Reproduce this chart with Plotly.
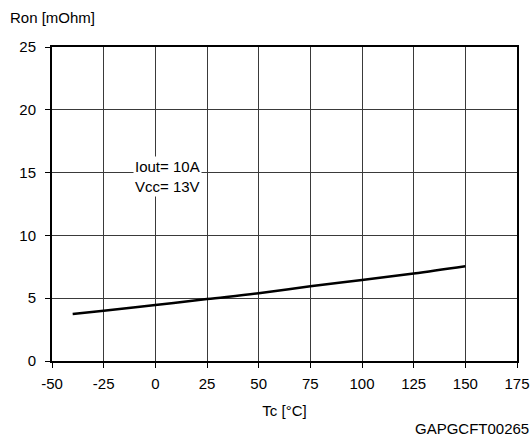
import plotly.graph_objects as go

tc = [-40, -25, 0, 25, 50, 75, 100, 125, 150]
ron = [3.75, 4.0, 4.45, 4.93, 5.4, 5.95, 6.45, 6.97, 7.55]
x_ticks = [-50, -25, 0, 25, 50, 75, 100, 125, 150, 175]
x_tick_labels = ["-50", "-25", "0", "25", "50", "75", "100", "125", "150", "175"]
y_ticks = [0, 5, 10, 15, 20, 25]
y_tick_labels = ["0", "5", "10", "15", "20", "25"]

font = dict(family="Liberation Sans, Arial, sans-serif", size=15, color="black")

fig = go.Figure()
fig.add_trace(go.Scatter(x=tc, y=ron, mode="lines",
                         line=dict(color="black", width=2.5, shape="spline"),
                         showlegend=False, hoverinfo="skip"))

W, H = 532, 439
L, R, T, B = 52, 15, 47, 78
pw, ph = W - L - R, H - T - B

fig.update_layout(
    width=W, height=H,
    margin=dict(l=L, r=R, t=T, b=B, autoexpand=False),
    paper_bgcolor="white", plot_bgcolor="white",
    font=font,
    xaxis=dict(range=[-50, 175], tickvals=x_ticks, ticktext=x_tick_labels, showgrid=True,
               gridcolor="#3a3a3a", gridwidth=1, zeroline=False, automargin=False,
               showline=True, linecolor="black", linewidth=2, mirror=True,
               ticks="outside", ticklen=5, tickcolor="black", ticklabelstandoff=3,
               title=dict(text="Tc [°C]", font=font, standoff=14)),
    yaxis=dict(range=[0, 25], tickvals=y_ticks, ticktext=y_tick_labels, showgrid=True,
               gridcolor="#3a3a3a", gridwidth=1, zeroline=False, automargin=False,
               showline=True, linecolor="black", linewidth=2, mirror=True,
               ticks="outside", ticklen=5, tickcolor="black", ticklabelstandoff=6),
    annotations=[
        dict(text="Ron [mOhm]", xref="paper", yref="paper", x=-(L - 8) / pw, y=1 + (T - 17) / ph,
             xanchor="left", yanchor="middle", showarrow=False, font=font),
        dict(text="GAPGCFT00265", xref="paper", yref="paper", x=1 + (R - 1) / pw, y=-(428 - (H - B)) / ph,
             xanchor="right", yanchor="middle", showarrow=False, font=font),
        dict(text="Iout= 10A<br>Vcc= 13V", x=6, y=14.7, xref="x", yref="y",
             showarrow=False, font=font, bgcolor="white", borderpad=1, align="left"),
    ],
)

fig.write_html("out.html", config={"displayModeBar": False},
               post_script="document.body.style.margin='0';document.body.style.overflow='hidden';")
